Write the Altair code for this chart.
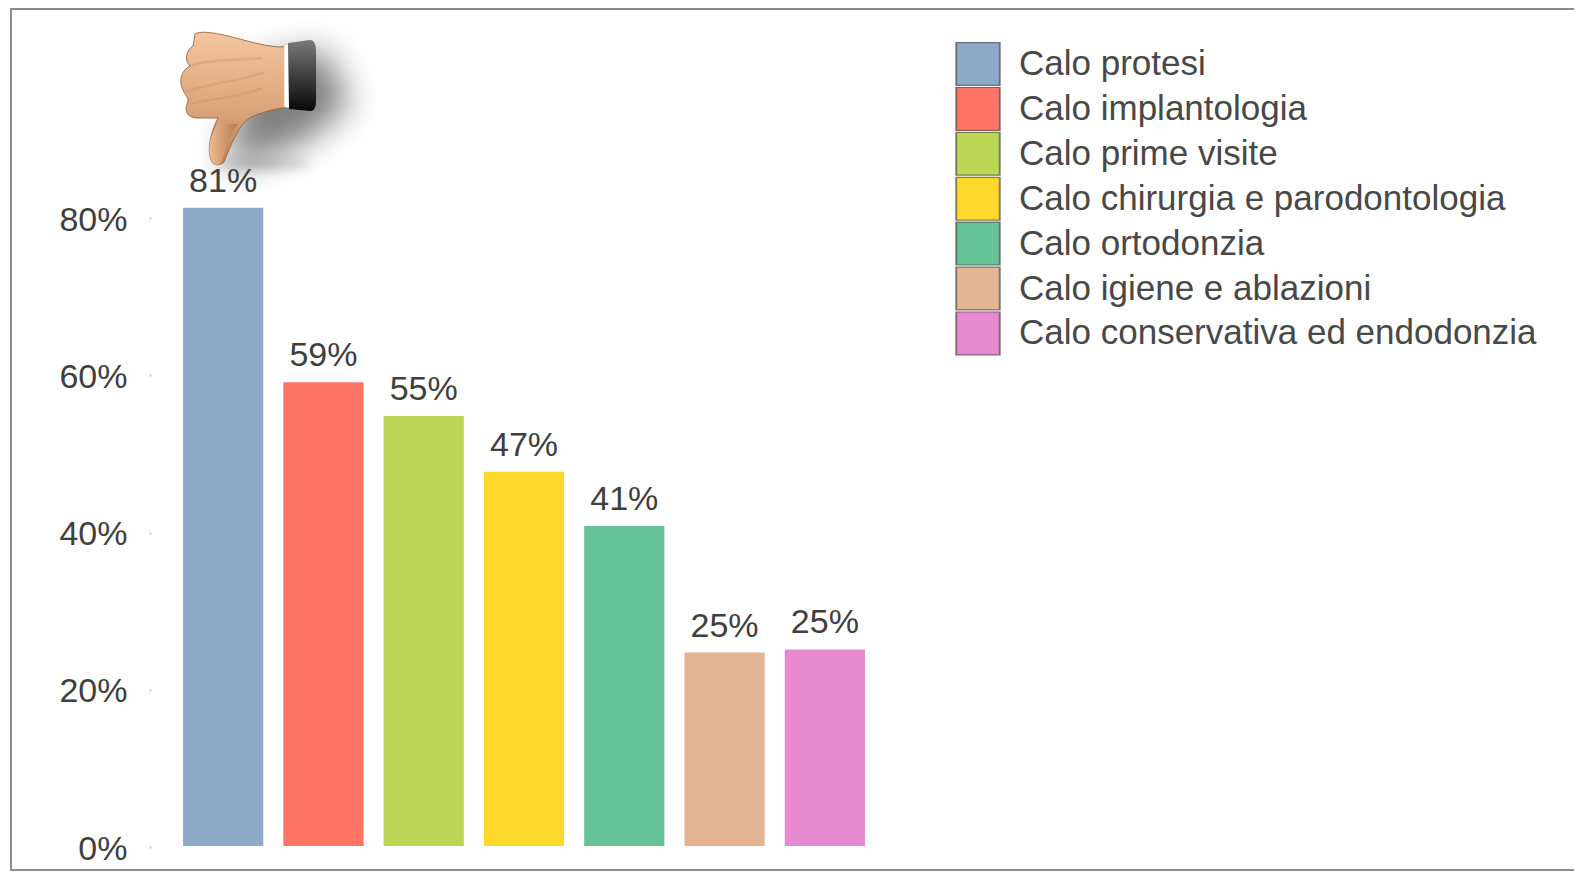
import base64
import altair as alt
import pandas as pd

categories = ["Calo protesi", "Calo implantologia", "Calo prime visite",
              "Calo chirurgia e parodontologia", "Calo ortodonzia",
              "Calo igiene e ablazioni", "Calo conservativa ed endodonzia"]
values = [81.2, 59.0, 54.7, 47.6, 40.7, 24.6, 25.0]
labels = ["81%", "59%", "55%", "47%", "41%", "25%", "25%"]
colors = ["#8FAAC9", "#FF7565", "#BAD855", "#FFD82C", "#66C297", "#E3B595", "#E88AD0"]
ticks = [0, 20, 40, 60, 80]

FONT = "Liberation Sans"
TEXT = "#3f3f3f"

df = pd.DataFrame({"cat": categories, "val": values, "lab": labels})

hand_svg = """<svg xmlns="http://www.w3.org/2000/svg" width="240" height="210" viewBox="160 15 240 210">
<defs>
<filter id="b" x="-60%" y="-60%" width="220%" height="220%"><feGaussianBlur stdDeviation="17"/></filter>
<filter id="c" x="-50%" y="-300%" width="200%" height="700%"><feGaussianBlur stdDeviation="6"/></filter>
<linearGradient id="s" x1="0" y1="0" x2="0" y2="1"><stop offset="0" stop-color="#F3C6A0"/><stop offset="0.55" stop-color="#DDA67C"/><stop offset="1" stop-color="#BB8257"/></linearGradient>
<linearGradient id="k" x1="0" y1="0" x2="0" y2="1"><stop offset="0" stop-color="#7a7a7a"/><stop offset="0.55" stop-color="#3a3a3a"/><stop offset="1" stop-color="#080808"/></linearGradient>
<linearGradient id="t" x1="0" y1="0" x2="1" y2="0"><stop offset="0" stop-color="#EDBB92"/><stop offset="1" stop-color="#B57C50"/></linearGradient>
</defs>
<path d="M250 65 L325 50 L350 105 L300 145 L240 165 L225 165 Z" fill="#000" opacity="0.5" filter="url(#b)"/>
<ellipse cx="262" cy="164" rx="50" ry="4" fill="#000" opacity="0.22" filter="url(#c)"/>
<path d="M195 34 C199 31 212 32 228 36 C245 40 262 46 280 47 L288 46 L288 107 L272 110 C258 114 250 116 243 124 C234 136 229 150 224 162 C220 166 213 166 211 160 C207 150 210 134 218 118 L196 118 C188 117 184 112 187 104 C190 98 186 97 183 90 C178 80 182 70 190 66 C184 60 186 50 193 46 Z" fill="url(#s)" stroke="#8a5a36" stroke-width="0.8"/>
<path d="M211 160 C207 150 210 134 219 122 C226 124 232 124 238 124 C230 134 226 150 221 163 C218 166 213 165 211 160 Z" fill="url(#t)"/>
<path d="M190 66 C205 60 235 60 262 58 M186 92 C205 84 235 82 265 72 M190 104 C212 98 240 98 262 88" fill="none" stroke="#C48F66" stroke-width="2.5" opacity="0.35"/>
<path d="M284 45 L290 44 L290 108 L284 107 Z" fill="#fff" stroke="#bbb" stroke-width="0.5"/>
<path d="M288 43 L310 40 C314 40 316 44 316 52 L316 100 C316 108 314 111 310 111 L289 109 Z" fill="url(#k)"/>
</svg>"""
hand_url = "data:image/svg+xml;base64," + base64.b64encode(hand_svg.encode()).decode()

y_scale = alt.Scale(domain=[0, 106.6], nice=False, zero=False)
x_scale = alt.Scale(domain=categories, range=[22, 724], paddingInner=0.2, paddingOuter=0.1)

hand = alt.Chart(alt.Data(values=[{"a": 1}])).mark_image(
    url=hand_url, width=240, height=210, align="left", baseline="top"
).encode(x=alt.value(9), y=alt.value(7))

bars = alt.Chart(df).mark_bar().encode(
    x=alt.X("cat:N", scale=x_scale, sort=categories, axis=None),
    y=alt.Y("val:Q", scale=y_scale, title=None,
            axis=alt.Axis(values=ticks, labelExpr="datum.value + '%'", domain=False, grid=False,
                          tickSize=2, tickWidth=2, tickColor="#c4c4c4", tickOffset=1,
                          labelPadding=22, labelOffset=2, labelFontSize=34, labelFont=FONT,
                          labelColor=TEXT, labelFontWeight="normal")),
    color=alt.Color("cat:N", sort=categories,
                    scale=alt.Scale(domain=categories, range=colors),
                    legend=alt.Legend(
                        orient="none", legendX=804, legendY=34, title=None, padding=0,
                        symbolType="square", symbolSize=1900,
                        symbolStrokeWidth=2, symbolStrokeColor="rgba(70,70,70,0.65)",
                        rowPadding=0.9, labelOffset=18, labelFont=FONT, labelFontSize=35,
                        labelColor="#484848", clipHeight=44, labelLimit=700)),
)

text = alt.Chart(df).mark_text(
    baseline="alphabetic", align="center", dy=-16, font=FONT, fontSize=34, color=TEXT
).encode(
    x=alt.X("cat:N", scale=x_scale, sort=categories, axis=None),
    y=alt.Y("val:Q", scale=y_scale),
    text="lab:N",
)

FRAME = "#8c8c8c"
top_line = alt.Chart(alt.Data(values=[{"a": 1}])).mark_rule(color=FRAME, strokeWidth=2).encode(
    x=alt.value(-141), x2=alt.value(1423), y=alt.value(1))
left_line = alt.Chart(alt.Data(values=[{"a": 1}])).mark_rule(color=FRAME, strokeWidth=2).encode(
    x=alt.value(-140), y=alt.value(0), y2=alt.value(862))
bottom_line = alt.Chart(alt.Data(values=[{"a": 1}])).mark_rule(color=FRAME, strokeWidth=2).encode(
    x=alt.value(-141), x2=alt.value(1423), y=alt.value(862))

chart = alt.layer(hand, bars, text, top_line, left_line, bottom_line).properties(
    width=1423, height=838,
    autosize=alt.AutoSizeParams(type="none"),
    padding={"left": 143, "top": 0, "right": 0, "bottom": 25},
).configure_view(stroke=None)

chart.save("out.html", embed_options={"renderer": "svg", "actions": False})
